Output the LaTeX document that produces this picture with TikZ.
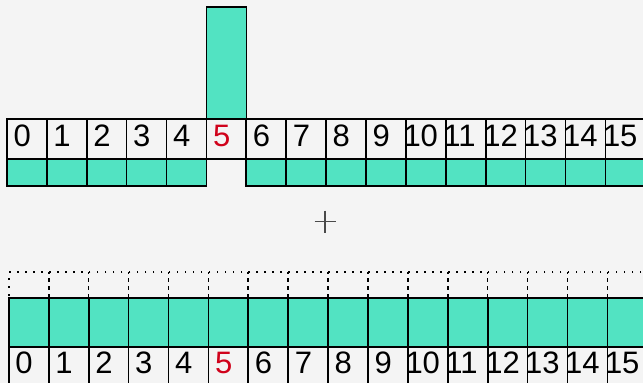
\documentclass[tikz,border=0pt]{standalone}
\usepackage{fontspec}
\setsansfont{Liberation Sans}
\definecolor{bg}{HTML}{F4F4F4}
\definecolor{teal}{HTML}{52E3C2}
\definecolor{redfive}{HTML}{D0021B}
\definecolor{plusgray}{HTML}{4A4A4A}
\begin{document}
\begin{tikzpicture}[x=1pt,y=-1pt,
  cellline/.style={draw=black,line width=1.7pt},
  tealcell/.style={cellline,fill=teal},
  labcell/.style={cellline},
  dotbox/.style={draw=black,line width=1.6pt,dash pattern=on 1.6pt off 6.4pt},
  plusline/.style={draw=plusgray,line width=1.4pt},
  lab/.style={anchor=base west,inner sep=0pt,font=\sffamily\fontsize{31}{33}\selectfont}]
\fill[bg] (0,0) rectangle (643,383);
\useasboundingbox (0,0) rectangle (643,383);
\begin{scope}
\clip (0,0) rectangle (643,383);
% top part
\node[tealcell,minimum width=40pt,minimum height=112pt,inner sep=0pt,anchor=north west] (bar) at (205.6,6) {};
\foreach \i in {0,...,15}{
  \pgfmathsetmacro{\xx}{6+39.9*\i}
  \node[labcell,minimum width=39.9pt,minimum height=40pt,inner sep=0pt,anchor=north west] (tl\i) at (\xx,118) {};
  \ifnum\i=5\else
    \node[tealcell,minimum width=39.9pt,minimum height=27pt,inner sep=0pt,anchor=north west] (tt\i) at (\xx,158) {};
  \fi
  % labels
  \ifnum\i<10
    \pgfmathsetmacro{\lx}{\xx+7.3}
  \else
    \pgfmathsetmacro{\lx}{\xx-1.7}
  \fi
  \ifnum\i=5
    \node[lab,text=redfive] (tn\i) at (\lx,146) {\i};
  \else
    \node[lab] (tn\i) at (\lx,146) {\i};
  \fi
}
% plus
\coordinate (plus) at (325,221.7);
\draw[plusline] (plus) ++(-10.5,0) -- ++(21,0);
\draw[plusline] (plus) ++(0,-11) -- ++(0,22);
% bottom part
\foreach \i in {0,...,15}{
  \pgfmathsetmacro{\xx}{8+39.9*\i}
  \node[dotbox,minimum width=39.9pt,minimum height=26pt,inner sep=0pt,anchor=north west] (bd\i) at (\xx,271) {};
  \node[tealcell,minimum width=39.9pt,minimum height=49pt,inner sep=0pt,anchor=north west] (bt\i) at (\xx,297) {};
  \node[labcell,minimum width=39.9pt,minimum height=40pt,inner sep=0pt,anchor=north west] (bl\i) at (\xx,346) {};
  \ifnum\i<10
    \pgfmathsetmacro{\lx}{\xx+7.3}
  \else
    \pgfmathsetmacro{\lx}{\xx-1.7}
  \fi
  \ifnum\i=5
    \node[lab,text=redfive] (bn\i) at (\lx,373) {\i};
  \else
    \node[lab] (bn\i) at (\lx,373) {\i};
  \fi
}
\end{scope}
\end{tikzpicture}
\end{document}
